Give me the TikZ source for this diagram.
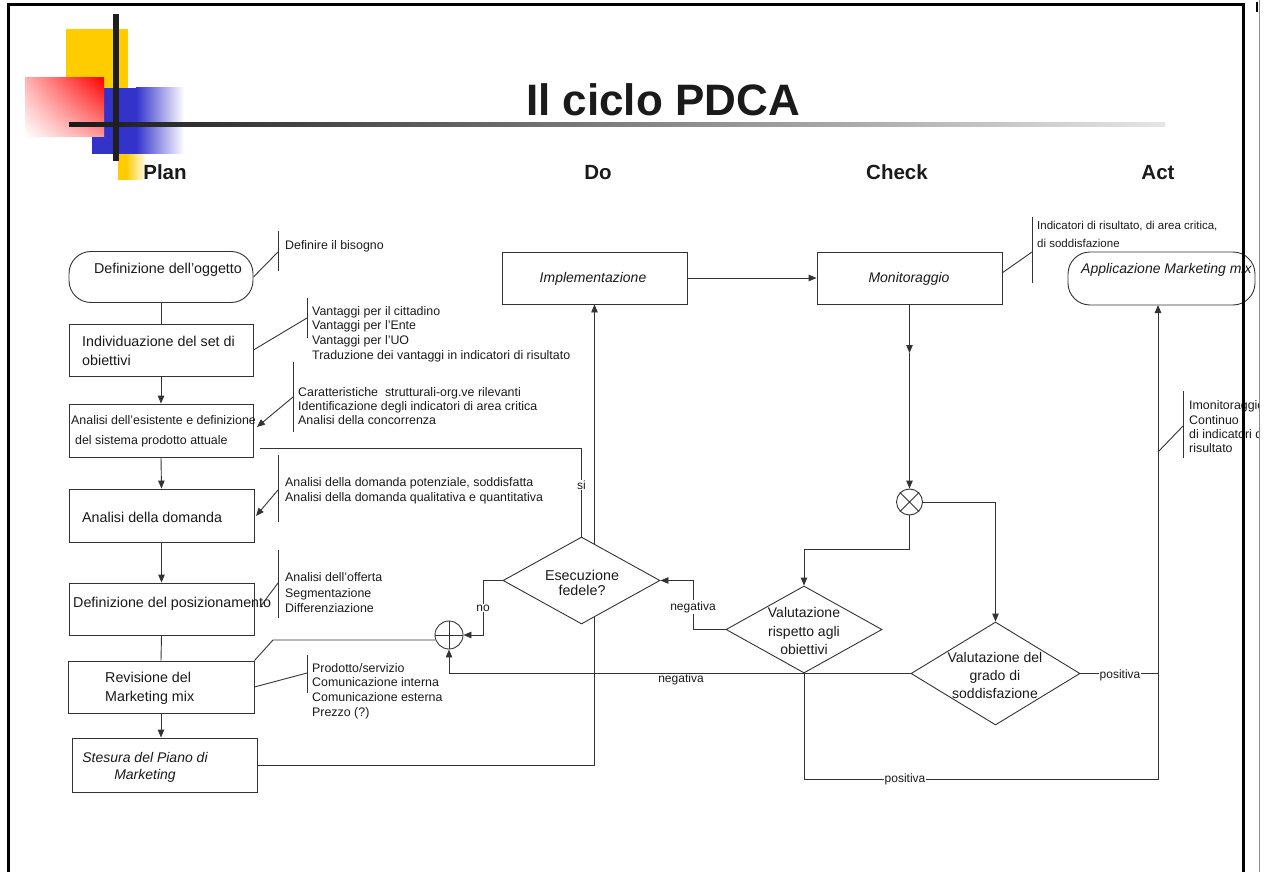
\documentclass[tikz,border=0pt]{standalone}
\usepackage{fontspec}
\setmainfont{Liberation Sans}
\usetikzlibrary{arrows.meta,shapes.geometric,backgrounds,shadings}
\definecolor{ln}{HTML}{333333}
\definecolor{tx}{HTML}{1A1A1A}
\definecolor{logoyellow}{HTML}{FFCC00}
\definecolor{logoblue}{HTML}{3333CC}
\definecolor{logored}{HTML}{FF0000}
\begin{document}
\begin{tikzpicture}[x=1pt,y=-1pt,
  line/.style={draw=ln, line width=0.9pt},
  arr/.style={line, -{Triangle[length=8pt,width=6.5pt]}},
  boxnode/.style={draw=ln, line width=0.9pt, rectangle, inner sep=0pt, fill=white},
  roundnode/.style={boxnode, rounded corners=22pt},
  dia/.style={draw=ln, line width=0.9pt, diamond, inner sep=0pt, fill=white},
  junc/.style={draw=ln, line width=0.9pt, circle, inner sep=0pt, fill=white},
  btext/.style={font=\fontsize{14.3}{19}\selectfont, text=tx, inner sep=0pt},
  itext/.style={font=\itshape\fontsize{14}{17}\selectfont, text=tx, inner sep=0pt},
  stext/.style={font=\fontsize{12.4}{14.8}\selectfont, text=tx, inner sep=0pt, align=left},
  lab/.style={font=\fontsize{12}{14}\selectfont, text=tx, inner sep=1pt, fill=white},
  hdr/.style={font=\bfseries\fontsize{20.5}{24}\selectfont, text=tx, anchor=base}
]
\useasboundingbox (0,0) rectangle (1267,872);

\begin{scope}
\clip (0,0) rectangle (1258.5,872);

% ---- logo ----
\fill[logoyellow] (66,29) rectangle (128,88);
\fill[logoyellow] (118,154) rectangle (126,180);
\shade[left color=logoyellow, right color=white] (126,154) rectangle (147,180);
\fill[logoblue] (92,88) rectangle (136,154);
\shade[left color=logoblue, right color=white] (136,88) rectangle (184,154);
\shade[upper right=logored, upper left=logored!30, lower right=logored!40, lower left=white] (25,78) rectangle (104,137);
\shade[left color=black!90, right color=black!10] (69,123) rectangle (1165,127);
\fill[black!88] (113,14) rectangle (119,161);

% ---- title and headers ----
\node[font=\bfseries\fontsize{44}{50}\selectfont, text=tx, anchor=base] (title) at (663,116) {Il ciclo PDCA};
\node[hdr] (hPlan) at (165,179) {Plan};
\node[hdr] (hDo) at (598,179) {Do};
\node[hdr] (hCheck) at (897,179) {Check};
\node[hdr] (hAct) at (1158,179) {Act};

% ---- Plan column ----
\node[roundnode, minimum width=184, minimum height=51] (ogg) at (161,277) {};
\node[btext] (oggT) at (168,270) {Definizione dell’oggetto};

\node[boxnode, minimum width=184, minimum height=52] (ind) at (161,350) {};
\node[btext, anchor=west, align=left] (indT) at (82,351) {Individuazione del set di\\obiettivi};

\node[boxnode, minimum width=184, minimum height=53] (esi) at (161,430.5) {};
\node[stext, anchor=west, font=\fontsize{12.4}{20}\selectfont] (esiT) at (71,431) {Analisi dell’esistente e definizione\\\hspace*{4pt}del sistema prodotto attuale};

\node[boxnode, minimum width=185, minimum height=53] (dom) at (161.5,515.5) {};
\node[btext, anchor=west] (domT) at (82,517) {Analisi della domanda};

\node[boxnode, minimum width=185, minimum height=52] (pos) at (161.5,609) {};
\node[btext, anchor=west] (posT) at (73,604) {Definizione del posizionamento};

\node[boxnode, minimum width=186, minimum height=52] (rev) at (161,687) {};
\node[btext, anchor=west, align=left] (revT) at (105,688) {Revisione del\\Marketing mix};

\node[boxnode, minimum width=185, minimum height=54] (ste) at (164.5,765) {};
\node[itext, align=center] (steT) at (145,767) {Stesura del Piano di\\Marketing};

% ---- Do / Check / Act ----
\node[boxnode, minimum width=185, minimum height=52] (impl) at (594.5,278) {};
\node[itext] (implT) at (593,279) {Implementazione};
\node[boxnode, minimum width=185, minimum height=52] (mon) at (909.5,278) {};
\node[itext] (monT) at (909,279) {Monitoraggio};
\node[roundnode, minimum width=187, minimum height=53] (app) at (1161.5,278.5) {};
\node[itext, anchor=west] (appT) at (1081,270) {Applicazione Marketing mix};

\node[dia, minimum width=157, minimum height=87] (esec) at (581.5,580.5) {};
\node[btext, align=center, font=\fontsize{14.3}{15.5}\selectfont] (esecT) at (582,583) {Esecuzione\\fedele?};
\node[dia, minimum width=156, minimum height=87] (val1) at (804,629.5) {};
\node[btext, align=center, font=\fontsize{14}{18.5}\selectfont] (val1T) at (804,631) {Valutazione\\rispetto agli\\obiettivi};
\node[dia, minimum width=169, minimum height=103] (val2) at (995.5,673.5) {};
\node[btext, align=center, font=\fontsize{14}{18}\selectfont] (val2T) at (995,675) {Valutazione del\\grado di\\soddisfazione};

\node[junc, minimum size=26] (otimes) at (909.5,502) {};
\draw[line] (otimes.north east) -- (otimes.south west) (otimes.north west) -- (otimes.south east);
\node[junc, minimum size=28] (oplus) at (449,635) {};
\draw[line] (oplus.north) -- (oplus.south) (oplus.west) -- (oplus.east);

% ---- coordinates ----
\coordinate (mm) at (909.5,353);
\coordinate (j1) at (909.5,549);
\coordinate (k1) at (693,629.5);
\coordinate (k2) at (693,580.5);
\coordinate (s1) at (581.5,448);
\coordinate (s2) at (260,448);
\coordinate (q1) at (483,580.5);
\coordinate (q2) at (483,635);
\coordinate (r1) at (273,640);
\coordinate (r0) at (435,640);
\coordinate (p1) at (804,779);
\coordinate (p2) at (1158,779);
\coordinate (p3) at (1158,673.5);
\coordinate (p4) at (1158,305);

% ---- connectors (behind the shapes) ----
\begin{pgfonlayer}{background}
\draw[line] (ogg.south) -- (ind.north);
\draw[arr] (ind.south) -- (esi.north);
\draw[arr] (esi.south) -- (dom.north);
\draw[arr] (dom.south) -- (pos.north);
\draw[line] (pos.south) -- (rev.north);
\draw[arr] (rev.south) -- (rev.south |- ste.north);
\draw[arr] ([xshift=-4pt]ste.east) -| (impl.south);
\draw[arr] (impl.east) -- (mon.west);
\draw[arr] (mon.south) -- (mm);
\draw[arr] (mm) -- (otimes.north);
\draw[arr] (otimes.south) -- (j1) -| (val1.north);
\draw[arr] (otimes.east) -| (val2.north);
\draw[arr] (val1.west) -- (k1) -- (k2) -- (esec.east);
\draw[line] (esec.north) -- (s1) -- (s2);
\draw[arr] (esec.west) -- (q1) -- (q2) -- (oplus.east);
\draw[line] (r0) -- (r1) -- (rev.north east);
\draw[arr] (val2.west) -| (oplus.south);
\draw[arr] (val1.south) -- (p1) -- (p2) -- (p4);
\draw[line] (val2.east) -- (p3);
\end{pgfonlayer}

% ---- labels ----
\node[lab] (lsi) at (581.5,485) {si};
\node[lab] (lno) at (483,608) {no};
\node[lab] (lneg1) at (693,607) {negativa};
\node[lab, fill=none] (lneg2) at (681,679) {negativa};
\node[lab] (lpos1) at (905,779) {positiva};
\node[lab] (lpos2) at (1120,675) {positiva};

% ---- annotations ----
\coordinate (aT) at (278,231); \coordinate (aB) at (278,271); \coordinate (aM) at (278,252);
\draw[line] (aT) -- (aB); \draw[line] (ogg.east) -- (aM);
\node[stext, anchor=west] (aTx) at (285,246) {Definire il bisogno};

\coordinate (bT) at (307,298); \coordinate (bB) at (307,338); \coordinate (bM) at (307,318);
\draw[line] (bT) -- (bB); \draw[line] (ind.east) -- (bM);
\node[stext, anchor=west] (bTx) at (312,334) {Vantaggi per il cittadino\\Vantaggi per l'Ente\\Vantaggi per l'UO\\Traduzione dei vantaggi in indicatori di risultato};

\coordinate (cT) at (293,362); \coordinate (cB) at (293,432); \coordinate (cM) at (293,397); \coordinate (cE) at (257,427);
\draw[line] (cT) -- (cB); \draw[arr] (cM) -- (cE);
\node[stext, anchor=west, font=\fontsize{12.4}{13.6}\selectfont] (cTx) at (298,406) {Caratteristiche\ \ strutturali-org.ve rilevanti\\Identificazione degli indicatori di area critica\\Analisi della concorrenza};

\coordinate (dT) at (278,455); \coordinate (dB) at (278,522); \coordinate (dM) at (278,490); \coordinate (dE) at (256,516);
\draw[line] (dT) -- (dB); \draw[arr] (dM) -- (dE);
\node[stext, anchor=west] (dTx) at (285,491) {Analisi della domanda potenziale, soddisfatta\\Analisi della domanda qualitativa e quantitativa};

\coordinate (eT) at (278,550); \coordinate (eB) at (278,618); \coordinate (eM) at (278,583); \coordinate (eE) at (260,607);
\draw[line] (eT) -- (eB); \draw[line] (eM) -- (eE);
\node[stext, anchor=west, font=\fontsize{12.4}{15.5}\selectfont] (eTx) at (285,593) {Analisi dell’offerta\\Segmentazione\\Differenziazione};

\coordinate (fT) at (307,655); \coordinate (fB) at (307,693); \coordinate (fM) at (307,673);
\draw[line] (fT) -- (fB); \draw[line] (rev.east) -- (fM);
\node[stext, anchor=west] (fTx) at (312,691) {Prodotto/servizio\\Comunicazione interna\\Comunicazione esterna\\Prezzo (?)};

\coordinate (gT) at (1032,217); \coordinate (gB) at (1032,283); \coordinate (gM) at (1032,252); \coordinate (gS) at (1002,273);
\draw[line] (gT) -- (gB); \draw[line] (gS) -- (gM);
\node[stext, anchor=west, font=\fontsize{11.5}{18}\selectfont] (gTx) at (1037,234) {Indicatori di risultato, di area critica,\\di soddisfazione};

\coordinate (hT) at (1183,391); \coordinate (hB) at (1183,458); \coordinate (hM) at (1183,426); \coordinate (hS) at (1158,452);
\draw[line] (hT) -- (hB); \draw[line] (hS) -- (hM);
\node[stext, anchor=west, font=\fontsize{12.4}{14.3}\selectfont] (hTx) at (1189,427) {Imonitoraggio\\Continuo\\di indicatori di\\risultato};
\end{scope}

% ---- frame ----
\draw[line width=3pt, black] (8,872) -- (8,5) -- (1243,5) -- (1243,872);
\draw[black!45, line width=1pt] (1259,0) -- (1259,872);
\draw[black, line width=2pt] (1257,2) -- (1257,12);
\end{tikzpicture}
\end{document}
